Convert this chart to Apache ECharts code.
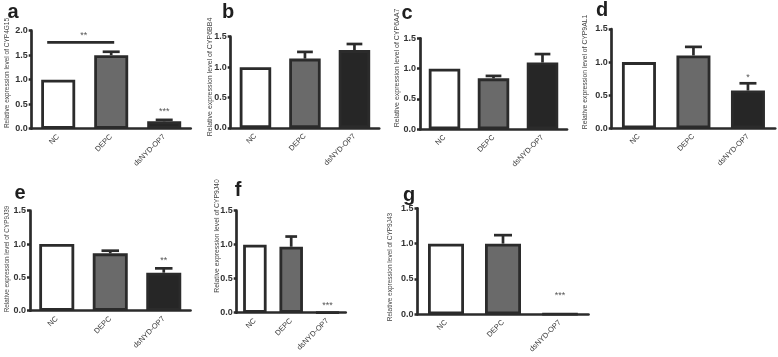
<!DOCTYPE html>
<html>
<head>
<meta charset="utf-8">
<script src="https://cdn.jsdelivr.net/npm/echarts@6/dist/echarts.min.js"></script>
<style>
html,body{margin:0;padding:0;background:#fff;}
#chart{width:778px;height:357px;}
</style>
</head>
<body>
<div id="chart"></div>
<script>
// ---------------- data ----------------
const categories = ['NC', 'DEPC', 'dsNYD-OP7'];
const genes = ['CYP4G15', 'CYP6BB4', 'CYP6AA7', 'CYP9AL1', 'CYP9J39', 'CYP9J40', 'CYP9J43'];
const panelLetters = ['a', 'b', 'c', 'd', 'e', 'f', 'g'];
const yMaxes = [2.0, 1.5, 1.5, 1.5, 1.5, 1.5, 1.5];
const yTickStep = 0.5;

const meanA = [1.0, 1.5, 0.15];   const errA = [0, 0.07, 0.03];
const meanB = [1.0, 1.14, 1.28];  const errB = [0, 0.11, 0.10];
const meanC = [1.0, 0.84, 1.1];   const errC = [0, 0.04, 0.14];
const meanD = [1.0, 1.1, 0.57];   const errD = [0, 0.13, 0.11];
const meanE = [1.0, 0.86, 0.57];  const errE = [0, 0.04, 0.065];
const meanF = [1.0, 0.97, 0.005]; const errF = [0, 0.15, 0];
const meanG = [1.0, 1.0, 0.005];  const errG = [0, 0.12, 0];

const sigA = ['', '', '***'];
const sigB = ['', '', ''];
const sigC = ['', '', ''];
const sigD = ['', '', '*'];
const sigE = ['', '', '**'];
const sigF = ['', '', '***'];
const sigG = ['', '', '***'];

// bracket in panel a: NC vs DEPC
const bracketA = { from: 0, to: 1, value: 1.76, text: '**' };

const means = [meanA, meanB, meanC, meanD, meanE, meanF, meanG];
const errs = [errA, errB, errC, errD, errE, errF, errG];
const sigs = [sigA, sigB, sigC, sigD, sigE, sigF, sigG];

// ---------------- layout / style ----------------
const layout = [
  { left: 31.7, top: 30.7, width: 159, height: 98, barW: 34, titleX: 7, titleY: 73, titleFont: 6.5, letterX: 13, letterY: 12, sigOff: 8 },
  { left: 230.7, top: 36.7, width: 148.5, height: 91.3, barW: 31.5, titleX: 210, titleY: 77, titleFont: 7, letterX: 228, letterY: 12, sigOff: 8 },
  { left: 420, top: 38.3, width: 147, height: 91, barW: 31.5, titleX: 397, titleY: 68, titleFont: 7, letterX: 407, letterY: 13, sigOff: 8 },
  { left: 611.7, top: 29, width: 163.5, height: 99.3, barW: 34, titleX: 585, titleY: 72, titleFont: 6.8, letterX: 602, letterY: 10, sigOff: 6 },
  { left: 30, top: 210.7, width: 160.5, height: 100, barW: 35, titleX: 7, titleY: 259, titleFont: 6.4, letterX: 20, letterY: 193, sigOff: 8 },
  { left: 236.7, top: 210.7, width: 109, height: 102, barW: 23.5, titleX: 216.7, titleY: 236, titleFont: 6.8, letterX: 238, letterY: 190, sigOff: 7 },
  { left: 417.5, top: 208.3, width: 171, height: 106, barW: 36, titleX: 390.7, titleY: 267, titleFont: 6.5, letterX: 409, letterY: 195, sigOff: 18 }
];
const fills = ['#ffffff', '#6a6a6a', '#262626'];
const ink = '#2b2b2b';
const font = 'Liberation Sans, Arial, sans-serif';

const grids = [], xAxes = [], yAxes = [], series = [], graphics = [];

layout.forEach((L, p) => {
  grids.push({ left: L.left, top: L.top, width: L.width, height: L.height, containLabel: false });
  xAxes.push({
    type: 'category', gridIndex: p, data: categories,
    axisLine: { lineStyle: { color: ink, width: 2.7 } },
    axisTick: { alignWithLabel: true, length: 3, lineStyle: { color: ink, width: 2.5 } },
    axisLabel: { rotate: 45, fontSize: 7.5, color: '#3a3a3a', margin: 7, fontFamily: font, interval: 0 },
    splitLine: { show: false }
  });
  yAxes.push({
    type: 'value', gridIndex: p, min: 0, max: yMaxes[p], interval: yTickStep,
    axisLine: { show: true, lineStyle: { color: ink, width: 2.7 } },
    axisTick: { show: true, length: 3, lineStyle: { color: ink, width: 2.5 } },
    axisLabel: { fontSize: 9, fontWeight: 'bold', color: '#333', margin: 4, fontFamily: font,
      formatter: v => v.toFixed(1) },
    splitLine: { show: false }
  });

  series.push({
    type: 'bar', xAxisIndex: p, yAxisIndex: p, barWidth: L.barW, z: 3,
    itemStyle: { borderColor: ink, borderWidth: 2.8 },
    data: means[p].map((v, i) => ({ value: v, itemStyle: { color: fills[i] } })),
    animation: false
  });

  series.push({
    type: 'custom', xAxisIndex: p, yAxisIndex: p, z: 2,
    data: means[p].map((v, i) => [i, v, errs[p][i]]),
    renderItem: (params, api) => {
      const e = api.value(2);
      if (!(e > 0)) return null;
      const i = api.value(0), m = api.value(1);
      const base = api.coord([i, m]);
      const top = api.coord([i, m + e]);
      const half = L.barW * 0.25;
      return {
        type: 'group',
        children: [
          { type: 'line', shape: { x1: base[0], y1: base[1], x2: top[0], y2: top[1] }, style: { stroke: ink, lineWidth: 2.7 } },
          { type: 'line', shape: { x1: top[0] - half, y1: top[1], x2: top[0] + half, y2: top[1] }, style: { stroke: ink, lineWidth: 2.7 } }
        ]
      };
    },
    animation: false
  });

  series.push({
    type: 'custom', xAxisIndex: p, yAxisIndex: p, z: 4,
    data: means[p].map((v, i) => [i, v + errs[p][i], sigs[p][i]]),
    renderItem: (params, api) => {
      const txt = sigs[p][params.dataIndex];
      if (!txt) return null;
      const pt = api.coord([api.value(0), api.value(1)]);
      return { type: 'text', x: pt[0], y: pt[1] - L.sigOff,
        style: { text: txt, fontSize: 9, fill: '#555', textAlign: 'center', textVerticalAlign: 'middle', fontFamily: font } };
    },
    animation: false
  });

  graphics.push({
    type: 'text', x: L.titleX, y: L.titleY, rotation: Math.PI / 2,
    style: { text: 'Relative expression level of ' + genes[p], fontSize: L.titleFont, fill: '#444',
      textAlign: 'center', textVerticalAlign: 'middle', fontFamily: font }
  });
  graphics.push({
    type: 'text', x: L.letterX, y: L.letterY,
    style: { text: panelLetters[p], fontSize: 20, fontWeight: 'bold', fill: '#1e1e1e',
      textAlign: 'center', textVerticalAlign: 'middle', fontFamily: font }
  });
});

// significance bracket in panel a
series.push({
  type: 'custom', xAxisIndex: 0, yAxisIndex: 0, z: 4,
  data: [[bracketA.from, bracketA.to, bracketA.value]],
  renderItem: (params, api) => {
    const a = api.coord([api.value(0), api.value(2)]);
    const b = api.coord([api.value(1), api.value(2)]);
    return {
      type: 'group',
      children: [
        { type: 'line', shape: { x1: a[0] - 11, y1: a[1], x2: b[0] + 3, y2: b[1] }, style: { stroke: ink, lineWidth: 2.7 } },
        { type: 'text', x: (a[0] - 11 + b[0] + 3) / 2 + 3, y: a[1] - 7,
          style: { text: bracketA.text, fontSize: 9, fill: '#555', textAlign: 'center', textVerticalAlign: 'middle', fontFamily: font } }
      ]
    };
  },
  animation: false
});

const chart = echarts.init(document.getElementById('chart'), null, { renderer: 'canvas' });
chart.setOption({
  animation: false,
  backgroundColor: '#ffffff',
  grid: grids, xAxis: xAxes, yAxis: yAxes, series: series, graphic: graphics
});
</script>
</body>
</html>
